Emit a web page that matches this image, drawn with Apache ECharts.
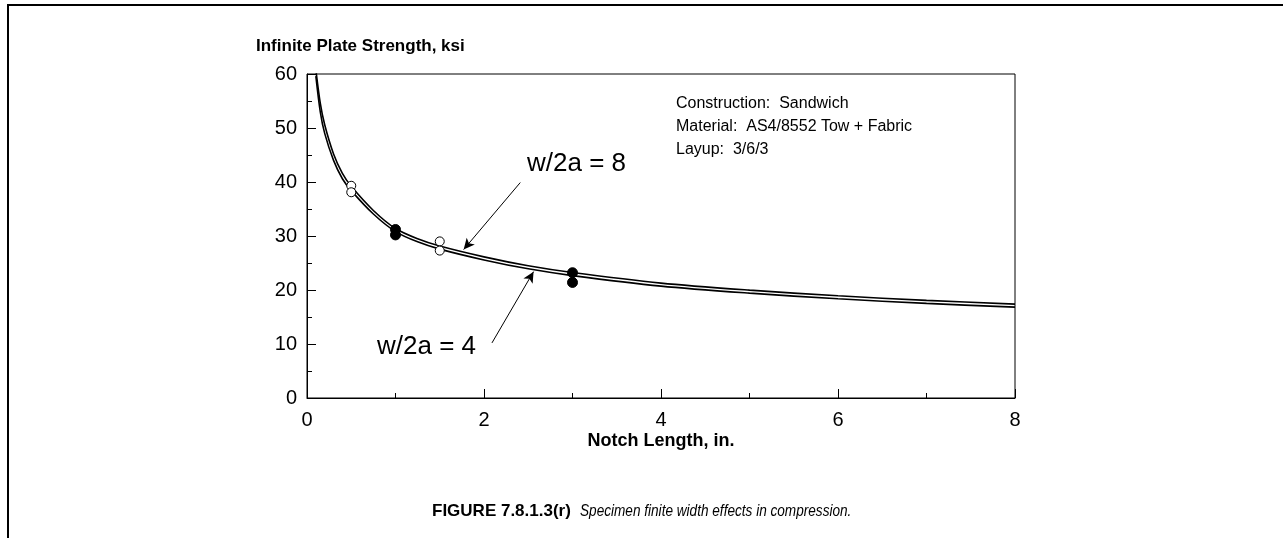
<!DOCTYPE html>
<html>
<head>
<meta charset="utf-8">
<script src="https://cdn.jsdelivr.net/npm/echarts@6/dist/echarts.min.js"></script>
<style>
html,body{margin:0;padding:0;background:#fff;}
#chart{width:1283px;height:538px;}
</style>
</head>
<body>
<div id="chart"></div>
<script>
// ---- data ----
var notchLength = [0.1, 0.15, 0.2, 0.3, 0.4, 0.5, 0.75, 1, 1.25, 1.5, 2, 2.5, 3, 4, 5, 6, 7, 8];
var strengthW8 = [60.8, 54.6, 50.6, 45.2, 41.6, 39.2, 34.73, 31.38, 29.48, 28.13, 26.13, 24.48, 23.23, 21.28, 19.98, 18.93, 18.08, 17.38];
var strengthW4 = [59.6, 53.0, 49.0, 44.0, 40.6, 38.4, 34.07, 30.82, 28.92, 27.57, 25.57, 23.92, 22.67, 20.72, 19.42, 18.37, 17.52, 16.82];
var openX = [0.5, 0.5, 1.5, 1.5];
var openY = [39.3, 38.1, 29.0, 27.3];
var filledX = [1, 1, 3, 3];
var filledY = [31.2, 30.2, 23.2, 21.4];
var xTicks = [0, 2, 4, 6, 8];
var yTicks = [0, 10, 20, 30, 40, 50, 60];
var arrow8 = [[2.41, 39.9], [1.77, 27.5]];
var arrow4 = [[2.09, 10.2], [2.56, 23.4]];
var label8 = 'w/2a = 8';
var label4 = 'w/2a = 4';
var infoLines = ['Construction:  Sandwich', 'Material:  AS4/8552 Tow + Fabric', 'Layup:  3/6/3'];
var yTitle = 'Infinite Plate Strength, ksi';
var xTitle = 'Notch Length, in.';
var captionBold = 'FIGURE 7.8.1.3(r)';
var captionItalic = 'Specimen finite width effects in compression.';

function zip(xs, ys) { return xs.map(function (x, i) { return [x, ys[i]]; }); }

var FONT = '"Liberation Sans", Arial, sans-serif';
var chart = echarts.init(document.getElementById('chart'), null, {renderer: 'canvas'});

var option = {
  animation: false,
  backgroundColor: '#fff',
  grid: {left: 307, top: 74, right: 268, bottom: 140, show: true, borderColor: '#000', borderWidth: 1, backgroundColor: 'transparent'},
  xAxis: {
    type: 'value', min: xTicks[0], max: xTicks[xTicks.length - 1], interval: 2,
    axisLine: {lineStyle: {color: '#000', width: 1}},
    axisTick: {inside: true, length: 9, lineStyle: {color: '#000'}},
    minorTick: {show: true, splitNumber: 2, length: 5, lineStyle: {color: '#000'}},
    splitLine: {show: false},
    axisLabel: {color: '#000', fontFamily: FONT, fontSize: 20, margin: 12}
  },
  yAxis: {
    type: 'value', min: yTicks[0], max: yTicks[yTicks.length - 1], interval: 10,
    axisLine: {lineStyle: {color: '#000', width: 1}},
    axisTick: {inside: true, length: 9, lineStyle: {color: '#000'}},
    minorTick: {show: true, splitNumber: 2, length: 5, lineStyle: {color: '#000'}},
    splitLine: {show: false},
    axisLabel: {color: '#000', fontFamily: FONT, fontSize: 20, margin: 10}
  },
  series: [
    {
      name: label8, type: 'line', data: zip(notchLength, strengthW8), showSymbol: false, smooth: 0.3,
      lineStyle: {color: '#000', width: 1.6}, clip: true,
      markLine: {
        silent: true, symbol: ['none', 'arrow'], symbolSize: [8, 11],
        lineStyle: {color: '#000', width: 1, type: 'solid'}, label: {show: false},
        data: [[{coord: arrow8[0]}, {coord: arrow8[1]}]]
      }
    },
    {
      name: label4, type: 'line', data: zip(notchLength, strengthW4), showSymbol: false, smooth: 0.3,
      lineStyle: {color: '#000', width: 1.6}, clip: true,
      markLine: {
        silent: true, symbol: ['none', 'arrow'], symbolSize: [8, 11],
        lineStyle: {color: '#000', width: 1, type: 'solid'}, label: {show: false},
        data: [[{coord: arrow4[0]}, {coord: arrow4[1]}]]
      }
    },
    {
      type: 'scatter', data: zip(openX, openY), symbol: 'circle', symbolSize: 9,
      itemStyle: {color: '#fff', borderColor: '#000', borderWidth: 1, opacity: 1}, z: 5
    },
    {
      type: 'scatter', data: zip(filledX, filledY), symbol: 'circle', symbolSize: 10,
      itemStyle: {color: '#000', borderColor: '#000', borderWidth: 1, opacity: 1}, z: 5
    }
  ],
  graphic: [
    {type: 'polyline', shape: {points: [[8, 540], [8, 5], [1285, 5]]}, style: {stroke: '#000', lineWidth: 2, fill: null}, silent: true},
    {type: 'text', x: 256, y: 38, style: {text: yTitle, fontFamily: FONT, fontSize: 17, fontWeight: 'bold', fill: '#000'}},
    {type: 'text', x: 661, y: 432, style: {text: xTitle, textAlign: 'center', fontFamily: FONT, fontSize: 18, fontWeight: 'bold', fill: '#000'}},
    {type: 'text', x: 676, y: 92, style: {text: infoLines.join('\n'), fontFamily: FONT, fontSize: 16, lineHeight: 23, fill: '#000'}},
    {type: 'text', x: 527, y: 151, style: {text: label8, fontFamily: FONT, fontSize: 26, fill: '#000'}},
    {type: 'text', x: 377, y: 334, style: {text: label4, fontFamily: FONT, fontSize: 26, fill: '#000'}},
    {type: 'text', x: 432, y: 503, style: {text: captionBold, fontFamily: FONT, fontSize: 17, fontWeight: 'bold', fill: '#000'}},
    {type: 'text', x: 580, y: 503, scaleX: 0.8, style: {text: captionItalic, fontFamily: FONT, fontSize: 17, fontStyle: 'italic', fill: '#000'}}
  ]
};
chart.setOption(option);
</script>
</body>
</html>
